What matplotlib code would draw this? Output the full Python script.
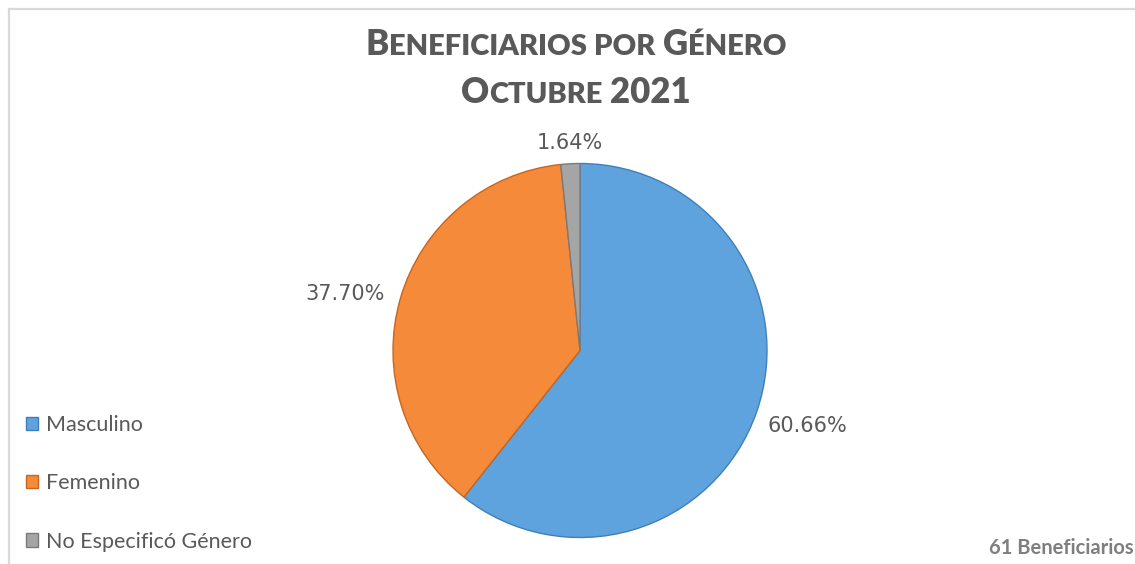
import numpy as np
import matplotlib
matplotlib.use("Agg")
import matplotlib.pyplot as plt
from matplotlib.lines import Line2D

# datos
categorias = ["Masculino", "Femenino", "No Especificó Género"]
beneficiarios = [37, 23, 1]
colores = ["#5FA3DE", "#F58A3A", "#A5A5A5"]
bordes = ["#3F7FB8", "#C8651F", "#7A7A7A"]
total_texto = "61 Beneficiarios"

W, H = 1135, 564
fig = plt.figure(figsize=(W / 100, H / 100), dpi=100)
fig.patch.set_facecolor("white")

# borde del área del gráfico
fig.add_artist(Line2D([9 / W, 1], [1 - 9 / H, 1 - 9 / H], color="#d9d9d9", lw=1.6))
fig.add_artist(Line2D([9 / W, 9 / W], [0, 1 - 9 / H], color="#d9d9d9", lw=1.6))

# pastel
cx, cy, r = 580, 350.5, 187
ax = fig.add_axes([(cx - r) / W, (H - cy - r) / H, 2 * r / W, 2 * r / H])
wedges, _ = ax.pie(beneficiarios, colors=colores, startangle=90, counterclock=False,
                   wedgeprops=dict(linewidth=1.0))
for w, b in zip(wedges, bordes):
    w.set_edgecolor(b)
ax.set_xlim(-1, 1)
ax.set_ylim(-1, 1)
ax.set_aspect("equal")
ax.axis("off")

# etiquetas de porcentaje (fuera, al extremo)
total = sum(beneficiarios)
for w, v in zip(wedges, beneficiarios):
    ang = np.deg2rad((w.theta1 + w.theta2) / 2)
    c, s = np.cos(ang), np.sin(ang)
    ha = "left" if c > 0.3 else ("right" if c < -0.3 else "center")
    va = "bottom" if s > 0.3 else ("top" if s < -0.3 else "center")
    d = 1.09 if ha == "right" else 1.06
    ax.text(d * c, d * s, f"{100 * v / total:.2f}%", ha=ha, va=va,
            fontsize=15, color="#595959", family="DejaVu Sans")


# título en versalitas
def versalitas(y, partes, grande=25, chica=21):
    renderer = fig.canvas.get_renderer()
    textos = []
    for txt, big, gap in partes:
        t = fig.text(0, y, txt, fontsize=grande if big else chica, fontweight="heavy",
                     family="Lato", color="#595959", va="baseline", ha="left")
        textos.append((t, gap))
    anchos = [t.get_window_extent(renderer).width + gap for t, gap in textos]
    x = 576 - sum(anchos) / 2
    for (t, gap), a in zip(textos, anchos):
        t.set_x(x / W)
        x += a


versalitas(1 - 55 / H, [("B", True, 0), ("ENEFICIARIOS", False, 7), ("POR", False, 7),
                        ("G", True, 0), ("ÉNERO", False, 0)])
versalitas(1 - 103 / H, [("O", True, 0), ("CTUBRE", False, 7), ("2021", True, 0)])

# leyenda
fig.legend(wedges, categorias, loc="upper left", bbox_to_anchor=(26 / W, 1 - 415 / H),
           frameon=False, labelcolor="#595959", handlelength=0.58,
           handleheight=0.58, handletextpad=0.35, labelspacing=1.78, borderpad=0,
           borderaxespad=0, prop=dict(family="Lato", size=15.5))

fig.text(1134 / W, 1 - 554 / H, total_texto, ha="right", va="baseline", fontsize=14.5,
         fontweight="bold", color="#7f7f7f", family="Lato")

fig.savefig("out.png", dpi=100)
